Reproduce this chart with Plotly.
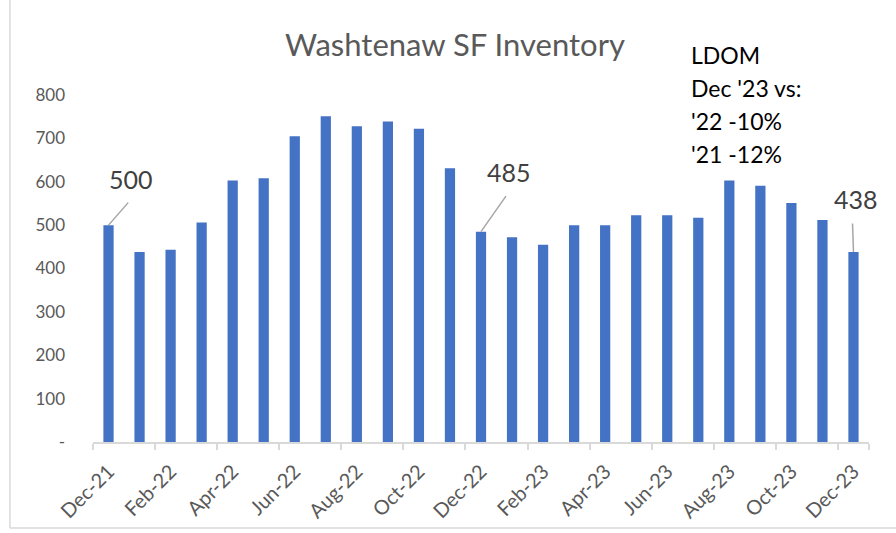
import plotly.graph_objects as go

months = ["Dec-21", "Jan-22", "Feb-22", "Mar-22", "Apr-22", "May-22", "Jun-22",
          "Jul-22", "Aug-22", "Sep-22", "Oct-22", "Nov-22", "Dec-22", "Jan-23",
          "Feb-23", "Mar-23", "Apr-23", "May-23", "Jun-23", "Jul-23", "Aug-23",
          "Sep-23", "Oct-23", "Nov-23", "Dec-23"]
inventory = [500, 438, 443, 506, 603, 608, 705, 751, 728, 739, 722, 631, 485,
             472, 455, 500, 500, 523, 523, 517, 603, 591, 551, 512, 438]
x_tick_labels = months[::2]
y_tick_vals = [0, 100, 200, 300, 400, 500, 600, 700, 800]
y_tick_text = ["-", "100", "200", "300", "400", "500", "600", "700", "800"]
callout_months = ["Dec-21", "Dec-22", "Dec-23"]
note_lines = ["LDOM", "Dec '23 vs:", "'22 -10%", "'21 -12%"]
title_text = "Washtenaw SF Inventory"

FONT = "Lato"
GREY = "#595959"

fig = go.Figure(go.Bar(x=months, y=inventory, marker=dict(color="#4472C4", line=dict(width=0)),
                       width=0.33, hoverinfo="x+y"))

# leader offsets (pixels) for callout labels
leader = {"Dec-21": (21, -24, 22, 46), "Dec-22": (26, -37, 28, 60), "Dec-23": (-1, -30, 3, 53)}
annotations = []
for m in callout_months:
    v = inventory[months.index(m)]
    ax, ay, xs, ys = leader[m]
    annotations.append(dict(x=m, y=v, xref="x", yref="y", text="", showarrow=True,
                            arrowhead=0, arrowwidth=1.5, arrowcolor="#a6a6a6",
                            ax=ax, ay=ay, standoff=0))
    annotations.append(dict(x=m, y=v, xref="x", yref="y", text=str(v), showarrow=False,
                            xshift=xs, yshift=ys, font=dict(family=FONT, size=25, color="#404040")))

for i, line in enumerate(note_lines):
    annotations.append(dict(x=0.768, y=1.115 - i * 0.095, xref="paper", yref="paper",
                            text=line, showarrow=False, xanchor="left", yanchor="middle",
                            font=dict(family=FONT, size=23, color="#000000")))

fig.update_layout(
    width=896, height=533,
    margin=dict(l=93, r=27, t=95, b=91, autoexpand=False),
    paper_bgcolor="white", plot_bgcolor="white",
    showlegend=False,
    title=dict(text=title_text, x=455 / 896, xanchor="center", y=1 - 45 / 533, yanchor="middle",
               automargin=False, font=dict(family=FONT, size=31, color=GREY)),
    font=dict(family=FONT, color=GREY),
    annotations=annotations,
    xaxis=dict(type="category", tickvals=x_tick_labels, tickangle=-45, tickson="boundaries",
               automargin=False,
               showline=True, linecolor="#d9d9d9", linewidth=2, ticks="outside", ticklen=6,
               tickcolor="#d9d9d9", tickwidth=2, showgrid=False,
               ticklabelstandoff=8, ticklabelshift=0,
               tickfont=dict(family=FONT, size=20, color=GREY), range=[-0.5, 24.5]),
    yaxis=dict(range=[0, 800], tickvals=y_tick_vals, ticktext=y_tick_text, showgrid=False,
               automargin=False,
               showline=False, zeroline=False, ticklabelstandoff=27,
               tickfont=dict(family=FONT, size=17, color=GREY)),
    shapes=[
        dict(type="line", xref="paper", yref="paper", x0=-0.107, x1=-0.107, y0=-0.248, y1=1.3,
             line=dict(color="#d9d9d9", width=1.5)),
        dict(type="line", xref="paper", yref="paper", x0=-0.107, x1=1.05, y0=-0.248, y1=-0.248,
             line=dict(color="#d9d9d9", width=1.5)),
    ],
)

fig.write_html("out.html", config={"displayModeBar": False},
               post_script="document.body.style.margin='0px';")
